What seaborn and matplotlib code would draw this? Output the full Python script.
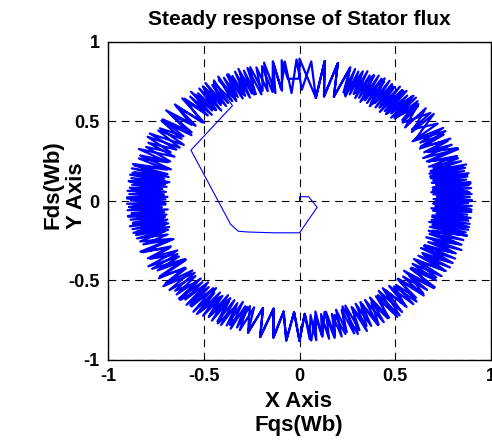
import numpy as np
import pandas as pd
import matplotlib
matplotlib.use("Agg")
import matplotlib.pyplot as plt
import seaborn as sns

# ---------------- data ----------------
# start-up transient of the stator flux (Fqs, Fds)
start_fqs = [0.0, 0.0, 0.048, 0.092, 0.0, -0.134, -0.27, -0.32, -0.36, -0.567, -0.35]
start_fds = [0.0, 0.027, 0.027, -0.04, -0.2, -0.2, -0.195, -0.19, -0.146, 0.32, 0.60]

# steady-state ring, first turn: flux angle (deg) and flux magnitude (Wb) at each vertex
ring_angle_a1 = [120.5, 121.2, 122.0, 122.7, 123.5, 124.2, 125.0, 125.7, 126.5, 127.2, 128.0, 128.7, 129.5, 130.2, 131.0, 131.7]
ring_mag_a1 = [0.88, 0.72, 0.86, 0.71, 0.89, 0.73, 0.87, 0.70, 0.88, 0.72, 0.86, 0.73, 0.89, 0.71, 0.87, 0.72]

ring_angle_b = [133.5, 135.3, 137.1, 138.9, 140.7, 142.5, 144.3, 146.1, 147.9, 149.7, 151.5, 153.3, 155.1, 156.9, 158.7, 160.5, 162.3, 164.1]
ring_mag_b = [0.89, 0.70, 0.87, 0.72, 0.90, 0.71, 0.88, 0.73, 0.86, 0.70, 0.89, 0.72, 0.87, 0.71, 0.90, 0.73, 0.88, 0.72]

ring_angle_c = [165.5, 166.2, 166.8, 167.5, 168.1, 168.8, 169.4, 170.1, 170.7, 171.4, 172.0, 172.7, 173.3, 174.0, 174.6, 175.3,
                175.9, 176.6, 177.2, 177.9, 178.5, 179.2, 179.8, 180.5, 181.1, 181.8, 182.4, 183.1, 183.7, 184.4, 185.0, 185.7,
                186.3, 187.0, 187.6, 188.3, 188.9, 189.6, 190.2, 190.9, 191.5, 192.2, 192.8, 193.5, 194.1, 194.8]
ring_mag_c = [0.89, 0.71, 0.90, 0.70, 0.88, 0.72, 0.90, 0.69, 0.89, 0.71, 0.90, 0.70, 0.88, 0.72, 0.89, 0.70,
              0.90, 0.71, 0.89, 0.69, 0.90, 0.70, 0.88, 0.71, 0.90, 0.70, 0.89, 0.72, 0.90, 0.69, 0.88, 0.71,
              0.90, 0.70, 0.89, 0.72, 0.88, 0.70, 0.90, 0.71, 0.89, 0.72, 0.87, 0.70, 0.88, 0.71]

ring_angle_d = [195.5, 197.0, 198.5, 200.0, 201.5, 203.0, 204.5, 206.0, 207.5, 209.0, 210.5, 212.0, 213.5, 215.0, 216.5, 218.0, 219.5, 221.0]
ring_mag_d = [0.88, 0.72, 0.86, 0.70, 0.88, 0.73, 0.87, 0.71, 0.89, 0.72, 0.86, 0.70, 0.88, 0.73, 0.87, 0.71, 0.88, 0.72]

ring_angle_e = [222.5, 223.4, 224.3, 225.2, 226.1, 227.0, 227.9, 228.8, 229.7, 230.6, 231.5, 232.4, 233.3, 234.2, 235.1,
                236.0, 236.9, 237.8, 238.7, 239.6, 240.5, 241.4, 242.3, 243.2, 244.1, 245.0, 245.9, 246.8, 247.7, 248.6]
ring_mag_e = [0.87, 0.71, 0.88, 0.72, 0.86, 0.70, 0.88, 0.72, 0.87, 0.71, 0.89, 0.73, 0.87, 0.71, 0.88,
              0.72, 0.86, 0.70, 0.88, 0.73, 0.87, 0.71, 0.88, 0.72, 0.87, 0.70, 0.88, 0.72, 0.86, 0.71]

ring_angle_f = [252.0, 254.2, 256.5, 258.7, 261.0, 263.2, 265.5, 267.7, 270.0, 272.2]
ring_mag_f = [0.87, 0.70, 0.88, 0.69, 0.87, 0.70, 0.88, 0.70, 0.88, 0.71]

ring_angle_g = [273.5, 274.6, 275.7, 276.8, 277.9, 279.0, 280.1, 281.2, 282.3, 283.4, 284.5, 285.6,
                286.7, 287.8, 288.9, 290.0, 291.1, 292.2, 293.3, 294.4, 295.5, 296.6, 297.7, 298.8]
ring_mag_g = [0.87, 0.72, 0.88, 0.70, 0.86, 0.72, 0.88, 0.71, 0.87, 0.73, 0.88, 0.71,
              0.86, 0.72, 0.88, 0.70, 0.87, 0.72, 0.89, 0.71, 0.87, 0.73, 0.88, 0.71]

ring_angle_h = [300.0, 301.2, 302.5, 303.7, 305.0, 306.2, 307.5, 308.7, 310.0, 311.2, 312.5, 313.7,
                315.0, 316.2, 317.5, 318.7, 320.0, 321.2, 322.5, 323.7, 325.0, 326.2, 327.5, 328.7]
ring_mag_h = [0.88, 0.71, 0.87, 0.72, 0.89, 0.70, 0.88, 0.72, 0.87, 0.71, 0.88, 0.73,
              0.86, 0.71, 0.88, 0.72, 0.87, 0.70, 0.89, 0.72, 0.87, 0.71, 0.88, 0.72]

ring_angle_i = [330.0, 331.0, 332.0, 333.0, 334.0, 335.0, 336.0, 337.0, 338.0, 339.0, 340.0, 341.0, 342.0, 343.0, 344.0, 345.0,
                346.0, 346.6, 347.2, 347.8, 348.4, 349.0, 349.6, 350.2, 350.8, 351.4, 352.0, 352.6, 353.2, 353.8, 354.4, 355.0,
                355.6, 356.2, 356.8, 357.4, 358.0, 358.6, 359.2, 359.8, 360.4, 361.0, 361.6, 362.2, 362.8, 363.4, 364.0, 364.6,
                365.2, 365.8, 366.4, 367.0, 367.6, 368.2, 368.8, 369.4, 370.0, 370.6, 371.2, 371.8, 372.4, 373.0, 373.6, 374.2,
                374.8, 375.4,
                376.5, 377.7, 379.0, 380.2, 381.5, 382.7, 384.0, 385.2, 386.5, 387.7, 389.0, 390.2, 391.5, 392.7]
ring_mag_i = [0.88, 0.71, 0.89, 0.72, 0.87, 0.70, 0.89, 0.71, 0.88, 0.72, 0.90, 0.70, 0.88, 0.71, 0.89, 0.72,
              0.90, 0.70, 0.89, 0.71, 0.90, 0.69, 0.88, 0.70, 0.90, 0.71, 0.89, 0.70, 0.90, 0.72, 0.88, 0.70,
              0.90, 0.69, 0.89, 0.71, 0.90, 0.70, 0.88, 0.71, 0.90, 0.70, 0.89, 0.72, 0.90, 0.70, 0.88, 0.69,
              0.90, 0.71, 0.89, 0.70, 0.90, 0.72, 0.88, 0.70, 0.89, 0.71, 0.90, 0.70, 0.88, 0.72, 0.89, 0.70,
              0.90, 0.71,
              0.88, 0.71, 0.87, 0.72, 0.89, 0.70, 0.87, 0.72, 0.88, 0.71, 0.86, 0.73, 0.88, 0.72]

ring_angle_j = [398.0, 396.5, 401.5, 400.0, 404.5, 403.5]
ring_mag_j = [0.89, 0.73, 0.88, 0.72, 0.87, 0.74]

ring_angle_k = [405.5, 406.2, 406.9, 407.6, 408.3, 409.0, 409.7, 410.4, 411.1, 411.8, 412.5, 413.2, 413.9, 414.6, 415.3, 416.0,
                416.7, 417.4, 418.1, 418.8, 419.5, 420.2, 420.9, 421.6, 422.3, 423.0, 423.7, 424.4, 425.1, 425.8, 426.5, 427.2,
                427.9, 428.6, 429.3, 430.0, 430.7, 431.4]
ring_mag_k = [0.88, 0.72, 0.89, 0.71, 0.88, 0.73, 0.87, 0.71, 0.89, 0.72, 0.88, 0.70, 0.89, 0.72, 0.87, 0.71,
              0.88, 0.73, 0.89, 0.72, 0.87, 0.71, 0.88, 0.72, 0.89, 0.70, 0.88, 0.72, 0.87, 0.71, 0.89, 0.73,
              0.88, 0.72, 0.87, 0.70, 0.88, 0.72]

ring_angle_l = [432.5, 434.7, 437.0, 439.0, 441.5, 442.5, 450.0, 450.0, 454.5, 456.0, 457.5, 459.0, 460.5, 462.0, 463.5, 465.0, 466.5]
ring_mag_l = [0.88, 0.68, 0.89, 0.67, 0.89, 0.655, 0.895, 0.77, 0.77, 0.89, 0.70, 0.88, 0.69, 0.89, 0.71, 0.87, 0.70]

ring_angle_a2 = [468.0, 468.7, 469.5, 470.2, 471.0, 471.7, 472.5, 473.2, 474.0, 474.7, 475.5, 476.2, 477.0, 477.7, 478.5, 479.2]
ring_mag_a2 = [0.88, 0.71, 0.87, 0.72, 0.89, 0.70, 0.88, 0.72, 0.86, 0.71, 0.88, 0.73, 0.87, 0.71, 0.89, 0.72]

# steady-state ring, second turn (slanted teeth overlapping the first)
turn2_angle_1 = [121.0, 123.5, 125.0, 127.5, 129.0, 131.6, 133.0, 135.8, 137.0, 139.6, 141.0, 143.7, 145.0, 147.5, 149.0, 151.8,
                 153.0, 155.5, 157.0, 159.8, 161.0, 163.5]
turn2_mag_1 = [0.87, 0.74, 0.88, 0.72, 0.86, 0.75, 0.88, 0.71, 0.89, 0.74, 0.87, 0.70, 0.88, 0.73, 0.86, 0.71,
               0.89, 0.74, 0.87, 0.72, 0.88, 0.70]

turn2_angle_2 = [165.0, 167.2, 168.5, 170.6, 172.0, 174.1, 175.5, 177.6, 179.0, 181.2, 182.5, 184.6, 186.0, 188.1, 189.5, 191.6,
                 193.0, 195.2]
turn2_mag_2 = [0.90, 0.72, 0.89, 0.70, 0.90, 0.73, 0.88, 0.71, 0.90, 0.70, 0.89, 0.72, 0.90, 0.71, 0.88, 0.70,
               0.89, 0.73]

turn2_angle_3 = [197.0, 199.6, 201.0, 203.5, 205.0, 207.7, 209.0, 211.4, 213.0, 215.6, 217.0, 219.5, 221.0, 223.7,
                 225.0, 227.4, 229.0, 231.5, 233.0, 235.6, 237.0, 239.4, 241.0, 243.5, 245.0, 247.6, 249.0, 250.5]
turn2_mag_3 = [0.87, 0.71, 0.89, 0.74, 0.86, 0.72, 0.88, 0.70, 0.87, 0.73, 0.89, 0.71, 0.86, 0.74,
               0.88, 0.72, 0.87, 0.70, 0.89, 0.73, 0.87, 0.71, 0.88, 0.74, 0.86, 0.72, 0.87, 0.71]

turn2_angle_4 = [252.0, 254.2, 256.5, 258.7, 261.0, 263.2, 265.5, 267.7, 270.0, 272.2]
turn2_mag_4 = [0.87, 0.70, 0.88, 0.69, 0.87, 0.70, 0.88, 0.70, 0.88, 0.71]

turn2_angle_5 = [274.0, 276.5, 278.0, 280.6, 282.0, 284.4, 286.0, 288.7, 290.0, 292.5, 294.0, 296.6, 298.0, 300.5,
                 302.0, 304.7, 306.0, 308.4, 310.0, 312.6, 314.0, 316.5, 318.0, 320.7, 322.0, 324.4, 326.0, 328.6]
turn2_mag_5 = [0.88, 0.73, 0.86, 0.71, 0.88, 0.74, 0.87, 0.70, 0.89, 0.73, 0.86, 0.71, 0.88, 0.74,
               0.87, 0.72, 0.89, 0.70, 0.86, 0.73, 0.88, 0.71, 0.87, 0.74, 0.89, 0.72, 0.86, 0.70]

turn2_angle_6 = [330.0, 332.5, 334.0, 336.4, 338.0, 340.6, 342.0, 344.5, 346.0, 348.3, 349.5, 351.8, 353.0, 355.3, 356.5, 358.8,
                 360.0, 362.3, 363.5, 365.8, 367.0, 369.3, 370.5, 372.8, 374.0, 376.6, 378.0, 380.5, 382.0, 384.6, 386.0, 388.4,
                 390.0, 392.5]
turn2_mag_6 = [0.88, 0.73, 0.89, 0.71, 0.87, 0.74, 0.89, 0.70, 0.90, 0.72, 0.90, 0.70, 0.89, 0.71, 0.90, 0.70,
               0.90, 0.72, 0.89, 0.70, 0.90, 0.71, 0.89, 0.70, 0.88, 0.73, 0.87, 0.71, 0.89, 0.74, 0.86, 0.72,
               0.88, 0.70]

turn2_angle_7 = [394.0, 397.5, 399.0, 402.5, 404.0, 406.4, 408.0, 410.5, 412.0, 414.6, 416.0, 418.4, 420.0, 422.5,
                 424.0, 426.6, 428.0, 430.5]
turn2_mag_7 = [0.87, 0.74, 0.88, 0.73, 0.86, 0.72, 0.89, 0.71, 0.88, 0.73, 0.87, 0.70, 0.89, 0.72,
               0.88, 0.74, 0.87, 0.71]

turn2_angle_8 = [432.5, 434.7, 437.0, 439.0, 441.5, 442.5, 446.0, 449.0, 451.0, 453.5, 455.0, 457.8, 459.0, 461.6,
                 463.0, 465.5, 467.0, 469.4, 471.0, 473.5, 475.0, 477.6, 479.0]
turn2_mag_8 = [0.88, 0.68, 0.89, 0.67, 0.89, 0.655, 0.88, 0.70, 0.89, 0.68, 0.88, 0.71, 0.89, 0.70,
               0.87, 0.72, 0.88, 0.71, 0.86, 0.73, 0.88, 0.72, 0.87]

x_ticks = [-1, -0.5, 0, 0.5, 1]
y_ticks = [-1, -0.5, 0, 0.5, 1]
x_tick_labels = ["-1", "-0.5", "0", "0.5", "1"]
y_tick_labels = ["-1", "-0.5", "0", "0.5", "1"]


# ---------------- build tables ----------------
def polar_pairs(angles, mags):
    pairs = list(zip(angles, mags))
    return [p[0] for p in pairs], [p[1] for p in pairs]


seg_angles = [ring_angle_a1, ring_angle_b, ring_angle_c, ring_angle_d, ring_angle_e, ring_angle_f, ring_angle_g,
              ring_angle_h, ring_angle_i, ring_angle_j, ring_angle_k, ring_angle_l, ring_angle_a2,
              turn2_angle_1, turn2_angle_2, turn2_angle_3, turn2_angle_4, turn2_angle_5, turn2_angle_6,
              turn2_angle_7, turn2_angle_8]
seg_mags = [ring_mag_a1, ring_mag_b, ring_mag_c, ring_mag_d, ring_mag_e, ring_mag_f, ring_mag_g,
            ring_mag_h, ring_mag_i, ring_mag_j, ring_mag_k, ring_mag_l, ring_mag_a2,
            turn2_mag_1, turn2_mag_2, turn2_mag_3, turn2_mag_4, turn2_mag_5, turn2_mag_6,
            turn2_mag_7, turn2_mag_8]
ring_angle, ring_mag = [], []
for a_list, m_list in zip(seg_angles, seg_mags):
    a_s, m_s = polar_pairs(a_list, m_list)
    ring_angle += a_s
    ring_mag += m_s

th = np.deg2rad(np.array(ring_angle))
rm = np.array(ring_mag)
ring_df = pd.DataFrame({"Fqs": rm * np.cos(th), "Fds": rm * np.sin(th)})
start_df = pd.DataFrame({"Fqs": start_fqs + [ring_df.Fqs.iloc[0]],
                         "Fds": start_fds + [ring_df.Fds.iloc[0]]})

# ---------------- plot ----------------
sns.set_theme(style="white")
plt.rcParams["font.family"] = ["Liberation Sans", "DejaVu Sans"]
plt.rcParams["font.weight"] = "bold"
plt.rcParams["text.color"] = "black"
plt.rcParams["axes.labelcolor"] = "black"
plt.rcParams["xtick.color"] = "black"
plt.rcParams["ytick.color"] = "black"

fig = plt.figure(figsize=(4.92, 4.40), dpi=100)
ax = fig.add_axes([108 / 492, 80 / 440, 383 / 492, 318 / 440])

blue = "#0000ff"
sns.lineplot(data=start_df, x="Fqs", y="Fds", sort=False, estimator=None,
             color=blue, linewidth=0.8, ax=ax)
sns.lineplot(data=ring_df, x="Fqs", y="Fds", sort=False, estimator=None,
             color=blue, linewidth=1.6, ax=ax)

ax.set_xlim(-1, 1)
ax.set_ylim(-1, 1)
ax.set_xticks(x_ticks)
ax.set_yticks(y_ticks)
ax.set_xticklabels(x_tick_labels, fontsize=13, fontweight="bold", color="black")
ax.set_yticklabels(y_tick_labels, fontsize=13, fontweight="bold", color="black")
ax.tick_params(direction="in", length=4, width=0.8, colors="black", pad=6)

ax.grid(True, color="black", linestyle=(0, (7, 5)), linewidth=0.8)
for s in ax.spines.values():
    s.set_color("black")
    s.set_linewidth(1.0)

ax.set_title("Steady response of Stator flux", fontsize=15, fontweight="bold", pad=12, color="black")
ax.set_xlabel("X Axis\nFqs(Wb)", fontsize=16, fontweight="bold", linespacing=1.2, color="black")
ax.set_ylabel("Fds(Wb)\nY Axis", fontsize=16, fontweight="bold", linespacing=1.2,
              multialignment="left", color="black")
ax.xaxis.set_label_coords(0.497, -0.096)
ax.yaxis.set_label_coords(-0.054, 0.55)

fig.savefig("out.png", dpi=100, facecolor="white")
